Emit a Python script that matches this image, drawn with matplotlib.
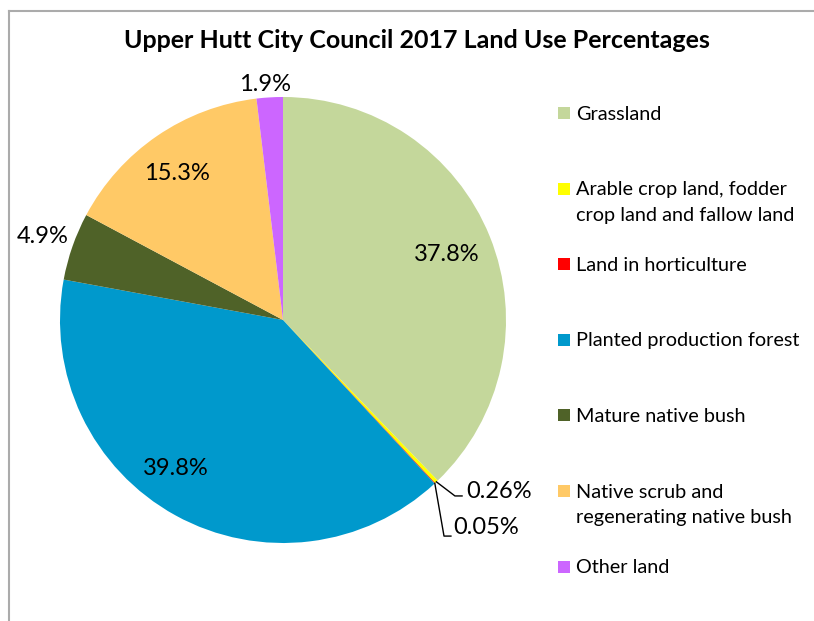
import numpy as np
import matplotlib
matplotlib.use("Agg")
import matplotlib.pyplot as plt

plt.rcParams["font.family"] = ["Lato", "DejaVu Sans"]

# data
categories = ["Grassland",
              "Arable crop land, fodder\ncrop land and fallow land",
              "Land in horticulture",
              "Planted production forest",
              "Mature native bush",
              "Native scrub and\nregenerating native bush",
              "Other land"]
values = [37.8, 0.26, 0.05, 39.8, 4.9, 15.3, 1.9]
value_labels = ["37.8%", "0.26%", "0.05%", "39.8%", "4.9%", "15.3%", "1.9%"]
colors = ["#C4D79B", "#FFFF00", "#FF0000", "#0099CC", "#4F6228", "#FFC966", "#CC66FF"]

title = "Upper Hutt City Council 2017 Land Use Percentages"

W, H = 814, 621
fig = plt.figure(figsize=(W / 100, H / 100), dpi=100)

# overlay axes in pixel coordinates for the frame, title and legend
lay = fig.add_axes([0, 0, 1, 1])
lay.set_xlim(0, W)
lay.set_ylim(H, 0)
lay.axis("off")

# chart border (only top and left visible in the crop)
lay.plot([9, W + 5], [11, 11], color="#ababab", lw=1.5)
lay.plot([9, 9], [11, H + 5], color="#ababab", lw=1.5)

lay.text(417, 41, title, ha="center", va="center", fontsize=18, fontweight="bold")

# pie axes: centre (283, 320), radius 223 px
cx, cy, r = 283, 320, 223
ax = fig.add_axes([(cx - r) / W, (H - cy - r) / H, 2 * r / W, 2 * r / H])
wedges, _ = ax.pie(values, colors=colors, startangle=90, counterclock=False,
                   wedgeprops=dict(linewidth=0))
ax.set_xlim(-1, 1)
ax.set_ylim(-1, 1)
ax.set_aspect("equal")

# label radius per slice (None = leader line label)
label_r = [0.79, None, None, 0.82, 1.14, 0.81, 1.06]
label_da = [0, 0, 0, -7, 0, 1.5, 1]
for w, lab, lr, da in zip(wedges, value_labels, label_r, label_da):
    if lr is None:
        continue
    mid = np.deg2rad((w.theta1 + w.theta2) / 2 + da)
    ax.text(lr * np.cos(mid), lr * np.sin(mid), lab, ha="center", va="center", fontsize=17)

# leader lines for the two thin slices
leaders = {1: ((0.771, -0.789), (0.803, -0.789), (0.82, -0.77)),
           2: ((0.722, -0.969), (0.753, -0.969), (0.765, -0.93))}
for i, (elbow, end, tpos) in leaders.items():
    w = wedges[i]
    mid = np.deg2rad((w.theta1 + w.theta2) / 2)
    p0 = (np.cos(mid), np.sin(mid))
    ax.plot([p0[0], elbow[0], end[0]], [p0[1], elbow[1], end[1]], color="black", lw=1,
            clip_on=False)
    ax.text(tpos[0], tpos[1], value_labels[i], ha="left", va="center", fontsize=17)

# legend
leg_y0, leg_step, line_h = 114, 75.6, 25.5
for i, (cat, col) in enumerate(zip(categories, colors)):
    y = leg_y0 + i * leg_step
    lay.add_patch(plt.Rectangle((558, y - 7), 12, 12, color=col, lw=0))
    for j, line in enumerate(cat.split("\n")):
        lay.text(576, y + j * line_h, line, ha="left", va="center", fontsize=14.3)

fig.savefig("out.png", dpi=100)
